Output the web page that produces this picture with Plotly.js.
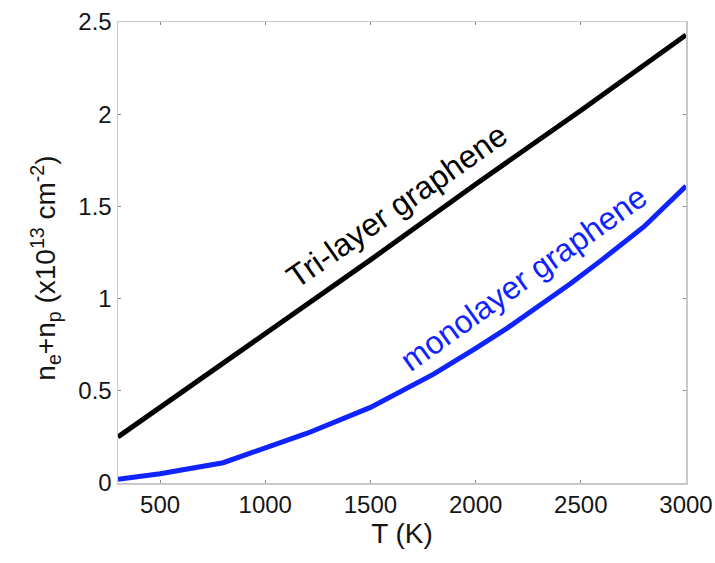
<!DOCTYPE html>
<html>
<head>
<meta charset="utf-8">
<script src="https://cdn.plot.ly/plotly-3.0.1.min.js"></script>
<style>html,body{margin:0;padding:0;background:#fff;}#chart{width:715px;height:563px;}</style>
</head>
<body>
<div id="chart"></div>
<script>
// Temperature (K)
const triT = [300, 500, 800, 1100, 1500, 2000, 2500, 3000];
const triN = [0.25, 0.41, 0.65, 0.89, 1.21, 1.62, 2.02, 2.43];
const monoT = [300, 500, 800, 1000, 1200, 1500, 1650, 1800, 2000, 2150, 2300, 2450, 2600, 2800, 3000];
const monoN = [0.02, 0.05, 0.11, 0.19, 0.27, 0.41, 0.50, 0.59, 0.73, 0.84, 0.96, 1.08, 1.21, 1.39, 1.61];
const xTicks = [500, 1000, 1500, 2000, 2500, 3000];
const yTicks = [0, 0.5, 1, 1.5, 2, 2.5];
const yTickText = ['0', '0.5', '1', '1.5', '2', '2.5'];
const triLabel = 'Tri-layer graphene';
const monoLabel = 'monolayer graphene';

const font = 'Liberation Sans, Arial, Helvetica, sans-serif';
const data = [
  {x: triT, y: triN, mode: 'lines', line: {color: '#000000', width: 5}, hoverinfo: 'none'},
  {x: monoT, y: monoN, mode: 'lines', line: {color: 'rgb(15,35,255)', width: 5}, hoverinfo: 'none'}
];
const axisCommon = {
  showgrid: false, zeroline: false, showline: true, mirror: 'ticks',
  linecolor: '#c8c8c8', linewidth: 1.5,
  ticks: 'inside', ticklen: 3, tickcolor: '#888', tickwidth: 1,
  tickfont: {family: font, size: 24, color: '#151515'}
};
const layout = {
  width: 715, height: 563,
  margin: {l: 118, r: 29, t: 22, b: 80},
  paper_bgcolor: '#fff', plot_bgcolor: '#fff',
  showlegend: false,
  xaxis: Object.assign({}, axisCommon, {
    range: [300, 3000], tickvals: xTicks, ticktext: xTicks.map(String),
    title: {text: 'T (K)', font: {family: font, size: 28, color: '#151515'}, standoff: 0}
  }),
  yaxis: Object.assign({}, axisCommon, {
    range: [0, 2.5], tickvals: yTicks, ticktext: yTickText,
    title: {text: 'n<sub>e</sub>+n<sub>p</sub> (x10<sup>13</sup> cm<sup>-2</sup>)&nbsp;&nbsp;&nbsp;&nbsp;', font: {family: font, size: 28, color: '#151515'}, standoff: 14}
  }),
  annotations: [
    {x: 1626, y: 1.50, xref: 'x', yref: 'y', text: triLabel, showarrow: false, textangle: -35,
     font: {family: font, size: 32, color: '#000'}},
    {x: 2230, y: 1.11, xref: 'x', yref: 'y', text: monoLabel, showarrow: false, textangle: -35.5,
     font: {family: font, size: 32, color: 'rgb(15,35,255)'}}
  ]
};
Plotly.newPlot('chart', data, layout, {staticPlot: true, displayModeBar: false});
</script>
</body>
</html>
